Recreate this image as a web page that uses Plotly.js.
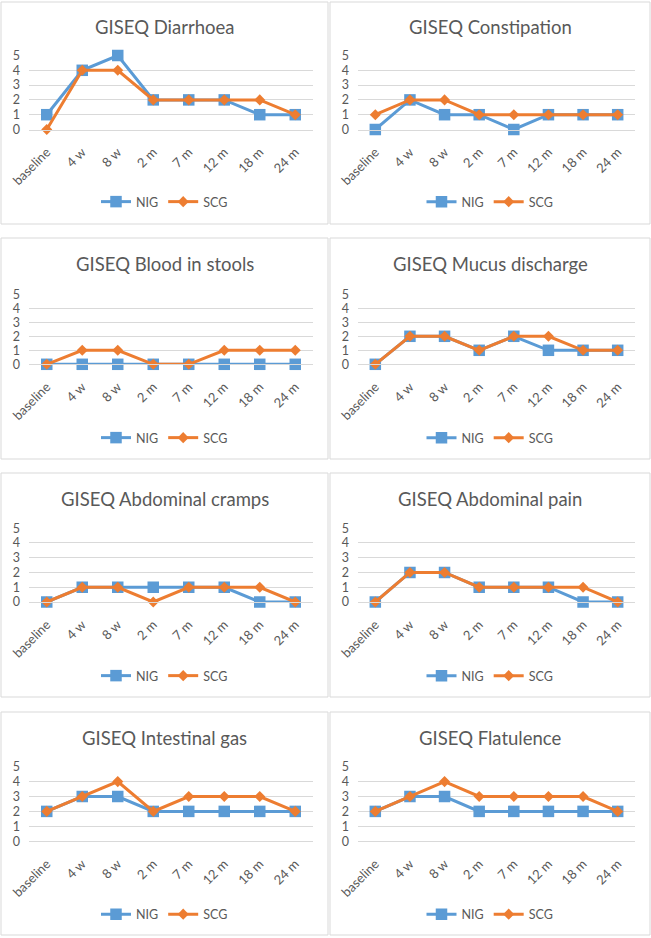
<!DOCTYPE html>
<html>
<head>
<meta charset="utf-8">
<script src="https://cdn.plot.ly/plotly-3.0.1.min.js"></script>
<style>
html,body{margin:0;padding:0;background:#fff;}
#chart{width:651px;height:938px;}
</style>
</head>
<body>
<div id="chart"></div>
<script>
// ---- data ----
const categories = ["baseline", "4 w", "8 w", "2 m", "7 m", "12 m", "18 m", "24 m"];
const seriesNames = ["NIG", "SCG"];
const titles = [
  "GISEQ Diarrhoea", "GISEQ Constipation",
  "GISEQ Blood in stools", "GISEQ Mucus discharge",
  "GISEQ Abdominal cramps", "GISEQ Abdominal pain",
  "GISEQ Intestinal gas", "GISEQ Flatulence"
];
const diarrhoeaNIG    = [1, 4, 5, 2, 2, 2, 1, 1];
const diarrhoeaSCG    = [0, 4, 4, 2, 2, 2, 2, 1];
const constipationNIG = [0, 2, 1, 1, 0, 1, 1, 1];
const constipationSCG = [1, 2, 2, 1, 1, 1, 1, 1];
const bloodNIG        = [0, 0, 0, 0, 0, 0, 0, 0];
const bloodSCG        = [0, 1, 1, 0, 0, 1, 1, 1];
const mucusNIG        = [0, 2, 2, 1, 2, 1, 1, 1];
const mucusSCG        = [0, 2, 2, 1, 2, 2, 1, 1];
const crampsNIG       = [0, 1, 1, 1, 1, 1, 0, 0];
const crampsSCG       = [0, 1, 1, 0, 1, 1, 1, 0];
const painNIG         = [0, 2, 2, 1, 1, 1, 0, 0];
const painSCG         = [0, 2, 2, 1, 1, 1, 1, 0];
const gasNIG          = [2, 3, 3, 2, 2, 2, 2, 2];
const gasSCG          = [2, 3, 4, 2, 3, 3, 3, 2];
const flatulenceNIG   = [2, 3, 3, 2, 2, 2, 2, 2];
const flatulenceSCG   = [2, 3, 4, 3, 3, 3, 3, 2];
const yTicks = [0, 1, 2, 3, 4, 5];

const panelSeries = [
  [diarrhoeaNIG, diarrhoeaSCG],
  [constipationNIG, constipationSCG],
  [bloodNIG, bloodSCG],
  [mucusNIG, mucusSCG],
  [crampsNIG, crampsSCG],
  [painNIG, painSCG],
  [gasNIG, gasSCG],
  [flatulenceNIG, flatulenceSCG]
];

// ---- layout geometry (pixels) ----
const W = 651, H = 938;
const px = x => x / W;
const py = y => 1 - y / H;
const cols = [
  {x0: 29, x1: 313, bx0: 1, bx1: 328, cx: 164.5},
  {x0: 358, x1: 635, bx0: 330, bx1: 650, cx: 490}
];
const rows = [
  {y5: 55.5, y0: 129.5, by0: 2, by1: 224, ty: 26, ly: 202},
  {y5: 294.3, y0: 364.3, by0: 238, by1: 459, ty: 263, ly: 438},
  {y5: 528.2, y0: 602, by0: 473, by1: 697, ty: 498, ly: 676},
  {y5: 766.7, y0: 841.2, by0: 712, by1: 935, ty: 737, ly: 914.5}
];
const colors = ["#5B9BD5", "#ED7D31"];
const symbols = ["square", "diamond"];
const msizes = [11.5, 8.5];
const FONT = "Lato, Carlito, Calibri, 'Noto Sans', sans-serif";
const TXT = "#595959";
const GRID = "#D9D9D9";

const traces = [];
const layout = {
  width: W, height: H,
  margin: {l: 0, r: 0, t: 0, b: 0},
  paper_bgcolor: "#fff",
  plot_bgcolor: "rgba(0,0,0,0)",
  font: {family: FONT, color: TXT, size: 12.5},
  showlegend: true,
  shapes: [],
  annotations: []
};

for (let p = 0; p < 8; p++) {
  const c = cols[p % 2], r = rows[Math.floor(p / 2)];
  const n = p + 1;
  const xa = n === 1 ? "xaxis" : "xaxis" + n;
  const ya = n === 1 ? "yaxis" : "yaxis" + n;
  const xr = n === 1 ? "x" : "x" + n;
  const yr = n === 1 ? "y" : "y" + n;
  const lg = n === 1 ? "legend" : "legend" + n;

  layout[xa] = {
    domain: [px(c.x0), px(c.x1)],
    anchor: yr,
    type: "category",
    range: [-0.5, 7.5],
    categoryorder: "array",
    categoryarray: categories,
    tickangle: -45,
    showgrid: false,
    zeroline: false,
    showline: true,
    linecolor: GRID,
    linewidth: 1,
    ticks: "",
    ticklabelstandoff: 9,
    tickfont: {family: FONT, size: 13, color: TXT},
    fixedrange: true
  };
  layout[ya] = {
    domain: [py(r.y0), py(r.y5)],
    anchor: xr,
    range: [0, 5],
    tickvals: yTicks,
    ticktext: yTicks.map(String),
    showgrid: true,
    gridcolor: GRID,
    gridwidth: 1,
    zeroline: false,
    showline: false,
    ticks: "",
    ticklabelstandoff: 8,
    tickfont: {family: FONT, size: 12.5, color: TXT},
    fixedrange: true
  };
  layout[lg] = {
    orientation: "h",
    x: px(c.cx), xanchor: "center",
    y: py(r.ly), yanchor: "middle",
    font: {family: FONT, size: 12.5, color: TXT},
    bgcolor: "rgba(0,0,0,0)",
    itemwidth: 30,
    tracegroupgap: 0
  };

  for (let s = 0; s < 2; s++) {
    traces.push({
      type: "scatter",
      mode: "lines+markers",
      name: seriesNames[s],
      x: categories,
      y: panelSeries[p][s],
      xaxis: xr, yaxis: yr,
      legend: lg,
      line: {color: colors[s], width: 3},
      marker: {symbol: symbols[s], size: msizes[s], color: colors[s]},
      cliponaxis: false,
      hoverinfo: "skip"
    });
  }

  layout.shapes.push({
    type: "rect", xref: "paper", yref: "paper",
    x0: px(c.bx0), x1: px(c.bx1), y0: py(r.by1), y1: py(r.by0),
    line: {color: GRID, width: 1}, fillcolor: "rgba(0,0,0,0)", layer: "below"
  });
  layout.annotations.push({
    xref: "paper", yref: "paper",
    x: px(c.cx), y: py(r.ty + 1),
    xanchor: "center", yanchor: "middle",
    text: titles[p], showarrow: false,
    font: {family: FONT, size: 18.5, color: TXT}
  });
}

Plotly.newPlot("chart", traces, layout, {staticPlot: true, displayModeBar: false});
</script>
</body>
</html>
